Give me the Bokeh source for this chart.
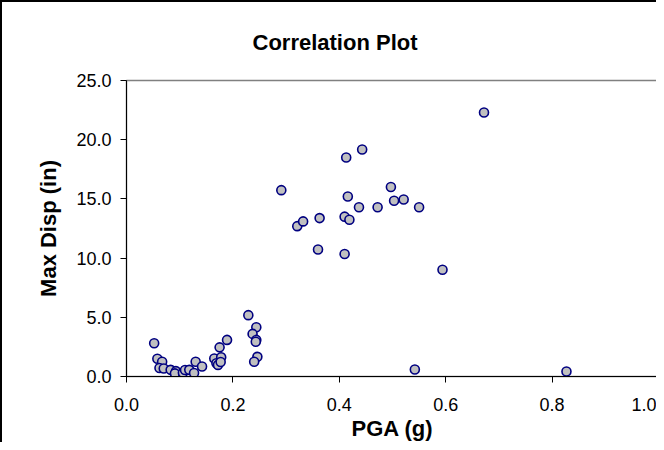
from bokeh.plotting import figure
from bokeh.models import Range1d, FixedTicker, NumeralTickFormatter, ColumnDataSource, Title
from bokeh.embed import file_html
from bokeh.resources import INLINE

# Data
pga = [0.052, 0.058, 0.067, 0.062, 0.070, 0.083, 0.093, 0.091, 0.106, 0.110,
       0.118, 0.127, 0.130, 0.142, 0.165, 0.169, 0.172, 0.175, 0.178, 0.177,
       0.189, 0.229, 0.244, 0.237, 0.244, 0.243, 0.246, 0.240,
       0.291, 0.321, 0.332, 0.360, 0.363, 0.410, 0.410, 0.413, 0.416, 0.419,
       0.437, 0.443, 0.472, 0.497, 0.503, 0.521, 0.550, 0.542, 0.594, 0.672, 0.827]
max_disp = [2.81, 1.50, 1.25, 0.72, 0.67, 0.56, 0.45, 0.26, 0.31, 0.55,
            0.56, 0.29, 1.24, 0.85, 1.52, 1.12, 0.98, 2.46, 1.63, 1.22,
            3.09, 5.18, 4.16, 3.60, 3.09, 2.93, 1.66, 1.24,
            15.74, 12.70, 13.10, 10.73, 13.38, 13.50, 10.34, 18.50, 15.20, 13.24,
            14.30, 19.17, 14.30, 16.00, 14.84, 14.95, 14.30, 0.59, 9.02, 22.30, 0.42]
x_ticks = [0.0, 0.2, 0.4, 0.6, 0.8, 1.0]
y_ticks = [0.0, 5.0, 10.0, 15.0, 20.0, 25.0]
title_text = "Correlation Plot"

FONT = "Liberation Sans"

p = figure(width=656, height=442, output_backend="svg", toolbar_location=None,
           x_range=Range1d(0, 1), y_range=Range1d(0, 25),
           min_border_left=124, min_border_top=78, min_border_right=0, min_border_bottom=68)
p.styles = {"border-left": "2px solid black", "border-top": "2px solid black"}

t = Title(text=title_text, text_font=FONT, text_font_size="22px",
          text_font_style="bold", text_color="black", align="left", offset=126,
          standoff=48, vertical_align="top")
p.add_layout(t, "above")

src = ColumnDataSource(dict(x=pga, y=max_disp))
p.scatter("x", "y", source=src, size=9, fill_color="#C0C0C0", line_color="#000080", line_width=1.6)

p.xgrid.visible = False
p.ygrid.visible = False
p.outline_line_color = "#808080"
p.outline_line_width = 1.5
p.background_fill_color = "white"
p.border_fill_color = "white"

for ax, ticks in ((p.xaxis[0], x_ticks), (p.yaxis[0], y_ticks)):
    ax.ticker = FixedTicker(ticks=ticks)
    ax.formatter = NumeralTickFormatter(format="0.0")
    ax.minor_tick_line_color = None
    ax.major_tick_in = 0
    ax.major_tick_out = 6
    ax.axis_line_color = "black"
    ax.major_tick_line_color = "black"
    ax.major_label_text_font = FONT
    ax.major_label_text_font_size = "18px"
    ax.major_label_text_color = "black"
    ax.axis_label_text_font = FONT
    ax.axis_label_text_font_size = "22px"
    ax.axis_label_text_font_style = "bold"
    ax.axis_label_text_color = "black"

p.xaxis.axis_label = "PGA (g)"
p.yaxis.axis_label = "Max Disp (in)"
p.xaxis.major_label_standoff = 15
p.xaxis.axis_label_standoff = 2
p.yaxis.major_label_standoff = 9
p.yaxis.axis_label_standoff = 12

open("out.html", "w").write(file_html(p, INLINE))
